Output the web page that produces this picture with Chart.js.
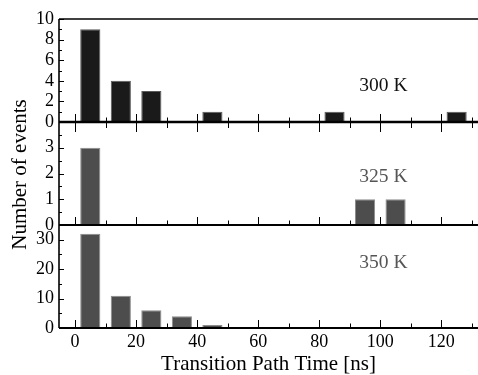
<!DOCTYPE html>
<html>
<head>
<meta charset="utf-8">
<script src="https://cdn.jsdelivr.net/npm/chart.js@4/dist/chart.umd.min.js"></script>
<style>
  html, body { margin: 0; padding: 0; background: #fff; }
  canvas { display: block; }
</style>
</head>
<body>
<canvas id="tptChart" width="478" height="375"></canvas>
<script>
// histogram bins (10 ns wide) and counts per temperature
const binCenters300 = [5, 15, 25, 45, 85, 125];
const counts300 = [9, 4, 3, 1, 1, 1];
const binCenters325 = [5, 95, 105];
const counts325 = [3, 1, 1];
const binCenters350 = [5, 15, 25, 35, 45];
const counts350 = [32, 11, 6, 4, 1];
const panelLabels = ['300 K', '325 K', '350 K'];
const yMax = [10, 4, 35];
const yStep = [2, 1, 10];
const yTicks = [[0, 2, 4, 6, 8, 10], [0, 1, 2, 3], [0, 10, 20, 30]];
const xTickLabels = [0, 20, 40, 60, 80, 100, 120];

const serif = "'Liberation Serif', 'Times New Roman', serif";

function points(xs, ys) {
  return xs.map(function(x, i) { return { x: x, y: ys[i] } });
}

function yScale(i, weight) {
  return {
    type: 'linear',
    position: 'left',
    stack: 'tpt',
    stackWeight: 1,
    weight: weight,
    min: 0,
    max: yMax[i],
    grid: { display: false, drawTicks: false },
    border: { display: false },
    ticks: {
      autoSkip: false,
      padding: 5,
      color: '#000',
      font: { family: serif, size: 18 }
    },
    afterBuildTicks: function(s) { s.ticks = yTicks[i].map(function(v) { return { value: v } }) },
    afterFit: function(s) { s.width = 59 }
  };
}

// frame, inward ticks, panel labels, y title
const panelFrame = {
  id: 'panelFrame',
  afterDraw: function(chart) {
    const ctx = chart.ctx;
    const area = chart.chartArea;
    const xs = chart.scales.x;
    const ys = [chart.scales.y1, chart.scales.y2, chart.scales.y3];
    function line(x1, y1, x2, y2) {
      ctx.beginPath(); ctx.moveTo(x1, y1); ctx.lineTo(x2, y2); ctx.stroke();
    }
    ctx.save();
    ctx.strokeStyle = '#000';
    ctx.lineWidth = 1.3;
    line(area.left, area.top, area.right, area.top);

    ys.forEach(function(s, i) {
      ctx.lineWidth = i === 0 ? 2.5 : 2;
      line(area.left, s.bottom, area.right, s.bottom);
      ctx.lineWidth = 1;
      for (let v = 0; v <= 130; v += 10) {
        const px = Math.round(xs.getPixelForValue(v)) + 0.5;
        const major = v % 20 === 0;
        line(px, s.bottom, px, s.bottom - (major ? 8 : 4.5));
        if (i === 0) line(px, s.bottom, px, s.bottom + (major ? 10 : 6));
      }
      const minor = yStep[i] / 2;
      for (let k = 0; k * minor <= yMax[i] + 1e-9; k++) {
        const py = Math.round(s.getPixelForValue(k * minor)) + 0.5;
        line(area.left, py, area.left + (k % 2 === 0 ? 5 : 3), py);
      }
    });

    ctx.lineWidth = 1.6;
    line(area.left, area.top, area.left, area.bottom);

    const labelY = [3.55, 1.85, 22];
    const labelColor = ['#111', '#555', '#555'];
    ctx.font = '19.5px ' + serif;
    ctx.textAlign = 'center';
    ctx.textBaseline = 'middle';
    panelLabels.forEach(function(t, i) {
      ctx.fillStyle = labelColor[i];
      ctx.fillText(t, xs.getPixelForValue(101), ys[i].getPixelForValue(labelY[i]));
    });

    ctx.fillStyle = '#000';
    ctx.font = '21px ' + serif;
    ctx.translate(20, (area.top + area.bottom) / 2 + 1);
    ctx.rotate(-Math.PI / 2);
    ctx.fillText('Number of events', 0, 0);
    ctx.restore();
  }
};

new Chart(document.getElementById('tptChart'), {
  type: 'bar',
  data: {
    datasets: [
      {
        label: '300 K',
        data: points(binCenters300, counts300),
        yAxisID: 'y1',
        backgroundColor: '#1a1a1a',
        borderColor: '#5a5a5a',
        borderWidth: 1
      },
      {
        label: '325 K',
        data: points(binCenters325, counts325),
        yAxisID: 'y2',
        backgroundColor: '#4d4d4d',
        borderColor: '#8c8c8c',
        borderWidth: 1
      },
      {
        label: '350 K',
        data: points(binCenters350, counts350),
        yAxisID: 'y3',
        backgroundColor: '#4d4d4d',
        borderColor: '#8c8c8c',
        borderWidth: 1
      }
    ]
  },
  options: {
    responsive: false,
    animation: false,
    grouped: false,
    barPercentage: 0.66,
    categoryPercentage: 1,
    layout: { padding: { top: 19, right: 0, left: 0, bottom: 0 } },
    plugins: {
      legend: { display: false },
      tooltip: { enabled: false }
    },
    scales: {
      x: {
        type: 'linear',
        position: 'bottom',
        offset: false,
        min: -5.25,
        max: 132,
        grid: { display: false, drawTicks: false, offset: false },
        border: { display: false },
        ticks: {
          autoSkip: false,
          maxRotation: 0,
          padding: 3,
          color: '#000',
          font: { family: serif, size: 18 }
        },
        afterBuildTicks: function(s) { s.ticks = xTickLabels.map(function(v) { return { value: v } }) },
        title: {
          display: true,
          text: 'Transition Path Time [ns]',
          color: '#000',
          font: { family: serif, size: 21, lineHeight: 1 },
          padding: { top: 0, bottom: 0 }
        },
        afterFit: function(s) { s.height = 47 }
      },
      y1: yScale(0, 3),
      y2: yScale(1, 2),
      y3: yScale(2, 1)
    }
  },
  plugins: [panelFrame]
});
</script>
</body>
</html>
